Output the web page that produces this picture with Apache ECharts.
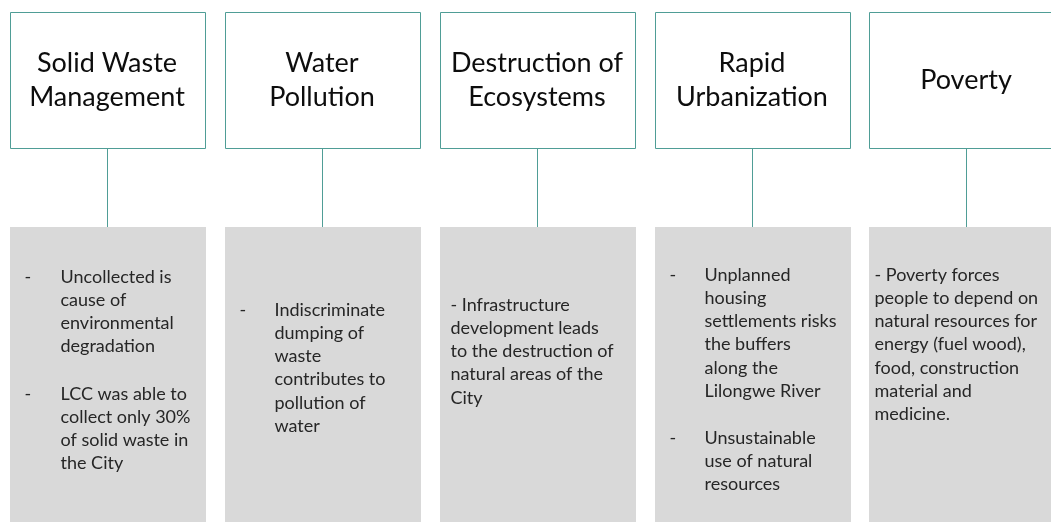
<!DOCTYPE html>
<html>
<head>
<meta charset="utf-8">
<script src="https://cdn.jsdelivr.net/npm/echarts@6/dist/echarts.min.js"></script>
<style>
  html, body { margin: 0; padding: 0; background: #fff; }
  #chart { width: 1051px; height: 522px; }
</style>
</head>
<body>
<div id="chart"></div>
<script>
// columns of the diagram
const categories = ['Solid Waste Management', 'Water Pollution', 'Destruction of Ecosystems', 'Rapid Urbanization', 'Poverty'];
const titleLines = [
  ['Solid Waste', 'Management'],
  ['Water', 'Pollution'],
  ['Destruction of', 'Ecosystems'],
  ['Rapid', 'Urbanization'],
  ['Poverty']
];
// 'hanging' = dash in its own column, 'inline' = dash is part of the text
const bulletStyle = ['hanging', 'hanging', 'inline', 'hanging', 'inline'];
const bodyBullets = [
  [['Uncollected is', 'cause of', 'environmental', 'degradation'],
   ['LCC was able to', 'collect only 30%', 'of solid waste in', 'the City']],
  [['Indiscriminate', 'dumping of', 'waste', 'contributes to', 'pollution of', 'water']],
  [['- Infrastructure', 'development leads', 'to the destruction of', 'natural areas of the', 'City']],
  [['Unplanned', 'housing', 'settlements risks', 'the buffers', 'along the', 'Lilongwe River'],
   ['Unsustainable', 'use of natural', 'resources']],
  [['- Poverty forces', 'people to depend on', 'natural resources for', 'energy (fuel wood),', 'food, construction', 'material and', 'medicine.']]
];

// layout (y values run down the hidden inverted axis)
const layout = {
  boxTop: 12, boxBottom: 148, greyTop: 227, greyBottom: 540,
  titleCenter: 80, titleLine: 34,
  bodyFirst: [277, 310, 305, 275, 275],
  bodyLine: 23.2, bulletGap: 24,
  textInset: [50, 49, 10, 49, 5], dashInset: 14,
  boxRatio: 0.908
};
const teal = '#4f9d96';
const grey = '#d9d9d9';
const font = 'Lato, "Open Sans", sans-serif';

const chart = echarts.init(document.getElementById('chart'));

function renderItem(params, api) {
  const i = api.value(0);
  const band = api.size([1, 0])[0];
  const w = Math.round(band * layout.boxRatio);
  const cx = Math.round(api.coord([i, 0])[0]);
  const left = Math.round(cx - w / 2) + 0.5;
  const y = v => api.coord([i, v])[1];
  const children = [];

  children.push({
    type: 'rect',
    shape: { x: left, y: y(layout.boxTop) + 0.5, width: w, height: y(layout.boxBottom) - y(layout.boxTop) },
    style: { fill: '#fff', stroke: teal, lineWidth: 1 }
  });
  children.push({
    type: 'line',
    shape: { x1: cx + 0.5, y1: y(layout.boxBottom) + 1, x2: cx + 0.5, y2: y(layout.greyTop) },
    style: { stroke: teal, lineWidth: 1 }
  });
  children.push({
    type: 'rect',
    shape: { x: left - 0.5, y: y(layout.greyTop), width: w + 1, height: y(layout.greyBottom) - y(layout.greyTop) },
    style: { fill: grey }
  });

  const tl = titleLines[i];
  tl.forEach((t, k) => {
    children.push({
      type: 'text',
      style: {
        text: t, x: cx, y: y(layout.titleCenter + (k - (tl.length - 1) / 2) * layout.titleLine),
        fill: '#0d0d0d', font: '27px ' + font, align: 'center', verticalAlign: 'middle'
      }
    });
  });

  let yy = layout.bodyFirst[i];
  bodyBullets[i].forEach((bullet, b) => {
    if (b > 0) yy += layout.bulletGap;
    bullet.forEach((line, k) => {
      if (k === 0 && bulletStyle[i] === 'hanging') {
        children.push({
          type: 'text',
          style: { text: '-', x: left + layout.dashInset, y: y(yy), fill: '#262626',
                   font: '18px ' + font, align: 'left', verticalAlign: 'middle' }
        });
      }
      children.push({
        type: 'text',
        style: { text: line, x: left + layout.textInset[i], y: y(yy), fill: '#262626',
                 font: '18px ' + font, align: 'left', verticalAlign: 'middle' }
      });
      yy += layout.bodyLine;
    });
  });

  return { type: 'group', children: children };
}

chart.setOption({
  animation: false,
  backgroundColor: '#fff',
  grid: { left: 0, top: 0, right: 0, bottom: 0 },
  // one unit per column; the last column runs past the right edge
  xAxis: { type: 'value', min: -0.5, max: 4.394, show: false },
  yAxis: { type: 'value', min: 0, max: 522, inverse: true, show: false },
  series: [{
    type: 'custom',
    silent: true,
    clip: false,
    renderItem: renderItem,
    encode: { x: 0 },
    data: categories.map((c, i) => [i])
  }]
});
</script>
</body>
</html>
